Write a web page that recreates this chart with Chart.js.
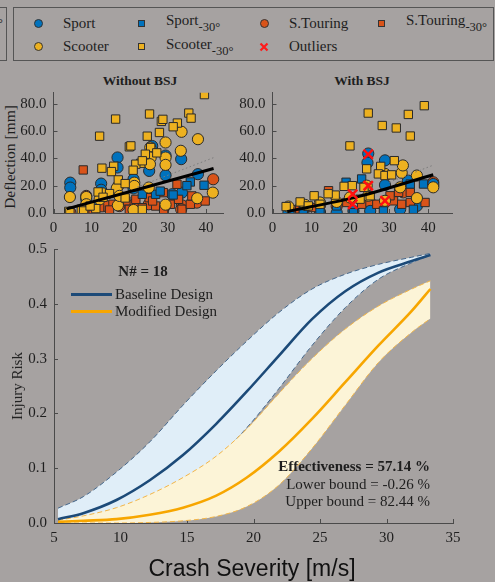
<!DOCTYPE html>
<html>
<head>
<meta charset="utf-8">
<script src="https://cdn.jsdelivr.net/npm/chart.js@4.4.1/dist/chart.umd.min.js"></script>
<style>
  body { margin: 0; background: #a6a2a1; }
  #page { position: relative; width: 495px; height: 582px; background: #a6a2a1; overflow: hidden;
          font-family: "Liberation Serif", "DejaVu Serif", serif; color: #1e1e1e; }
  canvas { position: absolute; }
  .t { position: absolute; white-space: nowrap; font-size: 15px; line-height: 18px; }
  .t sub { font-size: 12.5px; vertical-align: -6px; }
  .dot { position: absolute; width: 9px; height: 9px; border-radius: 50%; border: 1px solid #333; box-sizing: border-box; }
  .sq { position: absolute; width: 7px; height: 7px; border: 1px solid #333; box-sizing: border-box; }
  .ln { position: absolute; height: 3px; width: 41px; }
</style>
</head>
<body>
<div id="page">
  <!-- piece of the neighbouring legend on the left -->
  <div style="position:absolute;left:0;top:7px;width:7px;height:54px;border:1px solid #555;border-left:none;box-sizing:border-box"></div>
  <div class="t" style="left:-2px;top:14px;font-size:12px">°</div>

  <!-- marker legend -->
  <div style="position:absolute;left:13px;top:7px;width:481px;height:54px;border:1px solid #555;box-sizing:border-box"></div>
  <div class="dot" style="left:34px;top:19px;background:#0072bd"></div>
  <div class="t" style="left:63px;top:14px">Sport</div>
  <div class="sq" style="left:138px;top:20px;background:#0072bd"></div>
  <div class="t" style="left:166px;top:11px">Sport<sub>-30°</sub></div>
  <div class="dot" style="left:260px;top:19px;background:#d95319"></div>
  <div class="t" style="left:289px;top:14px">S.Touring</div>
  <div class="sq" style="left:378px;top:20px;background:#d95319"></div>
  <div class="t" style="left:406px;top:11px">S.Touring<sub>-30°</sub></div>
  <div class="dot" style="left:34px;top:42px;background:#edb120"></div>
  <div class="t" style="left:63px;top:37px">Scooter</div>
  <div class="sq" style="left:138px;top:43px;background:#edb120"></div>
  <div class="t" style="left:166px;top:35px">Scooter<sub>-30°</sub></div>
  <svg style="position:absolute;left:259px;top:42px" width="10" height="10"><path d="M1.5 1.5L8.5 8.5M8.5 1.5L1.5 8.5" stroke="#ff1a1a" stroke-width="2.2"/></svg>
  <div class="t" style="left:289px;top:37px">Outliers</div>

  <!-- scatter titles and label -->
  <div class="t" style="left:140px;top:72px;font-size:13.5px;font-weight:bold;transform:translateX(-50%)">Without BSJ</div>
  <div class="t" style="left:362px;top:72px;font-size:13.5px;font-weight:bold;transform:translateX(-50%)">With BSJ</div>
  <div class="t" style="left:10px;top:157px;font-size:15.5px;transform:translate(-50%,-50%) rotate(-90deg)">Deflection [mm]</div>

  <canvas id="noBsj" width="230" height="165" style="left:0;top:70px"></canvas>
  <canvas id="withBsj" width="265" height="165" style="left:230px;top:70px"></canvas>
  <canvas id="risk" width="495" height="340" style="left:0;top:229px"></canvas>

  <!-- risk plot texts -->
  <div class="t" style="left:143px;top:262px;font-weight:bold;transform:translateX(-50%)">N# = 18</div>
  <div class="ln" style="left:71px;top:293px;background:#1c4a78"></div>
  <div class="t" style="left:115px;top:285px">Baseline Design</div>
  <div class="ln" style="left:71px;top:310px;background:#f7a600"></div>
  <div class="t" style="left:115px;top:302px">Modified Design</div>
  <div class="t" style="right:65px;top:457px;font-weight:bold">Effectiveness = 57.14 %</div>
  <div class="t" style="right:65px;top:475px">Lower bound = -0.26 %</div>
  <div class="t" style="right:65px;top:492px">Upper bound = 82.44 %</div>
  <div class="t" style="left:17px;top:386px;transform:translate(-50%,-50%) rotate(-90deg)">Injury Risk</div>
  <div class="t" style="left:252px;top:554px;font-family:'Liberation Sans',Arial,sans-serif;font-size:23px;line-height:28px;color:#111;transform:translateX(-50%)">Crash Severity [m/s]</div>
</div>

<script>
// deflection [mm] vs speed, without BSJ
const noBsjSport = [[4.4,22.2],[4.4,18.6],[16.8,40.6],[16.8,33.3],[25.1,30.8],[25.9,49],[33.5,39.4],[29.4,27.6],[37.9,28.4],[12.5,21.5],[21,24.7],[25.1,14.9],[31.1,13.7],[33.7,14.9],[8.6,10],[12.5,17],[29.4,42],[21,18]];
const noBsjSport30 = [[35.9,22.7],[39.5,20.3],[31.4,13.2],[26.8,13.7],[23.3,13.7],[13.8,13.7],[17.3,8.8],[10.4,5.1],[35,20],[28,16]];
const noBsjTouring = [[41.9,24.7],[8.6,12.5],[33.7,5.6],[37.6,7.6],[25,6.4],[17.3,5.1],[13.8,5.1],[21.2,6.4],[33.5,2.7],[29,4],[4.4,0.5],[8.6,2]];
const noBsjTouring30 = [[7.8,31.5],[32.4,21],[28.8,14.9],[25.1,11.2],[21.6,10],[19,8.8],[15.6,6.4],[12.1,3.9],[26.8,5.1],[30.7,6.4],[33.7,2.7],[35.9,6.4],[39.8,8.8],[23.3,3.9],[19.9,2.7],[14.7,2.2],[28.9,2.2],[26,8.8],[32.8,10],[36.3,12.5],[10.4,1.5]];
const noBsjScooter = [[37.9,54],[33.6,59.4],[33.4,45.5],[29.4,51.6],[29.4,40.6],[29.4,35.2],[25.4,47.9],[25.5,40.6],[25.3,35.7],[21.2,22.2],[21.2,19.8],[17,19.8],[16.6,18.1],[12.8,14.4],[8.6,11.7],[4.3,11.7],[16.9,5.6],[21,2.2],[29.4,6.1],[37.7,10.8],[41.8,14.9],[8.6,6.4],[12.1,10],[17.3,12.5],[25,18.6]];
const noBsjScooter30 = [[39.6,86.6],[16.3,68.7],[25.2,72.4],[35.5,73.1],[36.1,69.4],[28.3,67],[28.7,68.5],[32.5,65.8],[31.4,63.1],[27.8,58.9],[12.1,56.2],[24.6,56.2],[19.9,48.4],[20.3,49.1],[25.5,47.9],[24.1,43],[27.1,44],[22.9,36.4],[21.6,35.7],[15.8,34.2],[15.2,30.3],[12.7,32.8],[17,24.2],[18.8,21.5],[20.9,31.3],[11.7,15.4],[14.7,14.2],[13,11.5],[4,1.2],[4.3,0.2],[7.3,2.7],[7.9,1.5],[11.1,3.2],[9.6,5.1],[18.8,11],[23.3,2.7],[23.3,38.2]];
const noBsjFit = [[3.5,3],[42,32.5]];
const noBsjFitBound = [[22,19],[42,40.5]];

// with BSJ
const withBsjSport = [[24.6,43.5],[24.4,36.8],[28.9,38.5],[28.9,20.5],[34.8,23.7],[41.3,21.2],[4.1,0.2],[7.9,0.2],[12.2,0.7],[16.5,0.2],[20.8,1.5],[25.1,1.5],[32.8,2.7],[37.1,5.2]];
const withBsjSport30 = [[18.9,22.5],[22.9,24.9],[35.4,21.2],[38.8,21.2],[20.8,0.2],[28.5,1.5],[36.2,2.7],[7.9,2.7],[12.2,2.2],[16.5,5.2]];
const withBsjTouring = [[41.3,22.5],[41.3,20],[25.1,7.7],[28.9,7.7],[16.5,5],[12.2,5.5],[4.5,3],[33.6,15.1],[8,4]];
const withBsjTouring30 = [[14.4,16.3],[19.1,7.7],[22.9,6.4],[26.8,6.4],[31.1,8.9],[33.2,6.4],[35.4,7.7],[39.2,7.7],[32.4,15.1],[35.4,15.1],[10.5,4],[7,3],[30.2,12.6]];
const withBsjScooter = [[37.1,27.4],[33.2,29.4],[33.5,34.8],[28.9,28.6],[41.3,18.8],[37.1,10.9],[32.8,18.8],[24.2,20],[24.6,12.6],[28.9,8.9],[4.1,4.7],[8.4,5.9],[12.2,7.7],[16.5,8.1],[19.9,11.4]];
const withBsjScooter30 = [[39,78.5],[24.6,73.1],[34.9,72.1],[28.2,64],[31.8,62.2],[35.4,56.3],[19.9,49.1],[24.2,32.3],[27.8,34.1],[31.3,38.3],[27.2,28.6],[28.9,27.4],[30.6,27.9],[18.4,19.5],[20.5,20],[23.5,18.8],[16.1,13.1],[14.3,14.1],[10.7,12.6],[7.1,8.1],[3.5,4.7],[12.2,6.4],[22.5,10.1],[25.1,12.6],[9.2,5.2]];
const withBsjOutliers = [[24.6,43],[24.6,20],[20.6,13.8],[20.6,6.4],[28.9,8.9]];
const withBsjFit = [[3.8,1],[22,12],[41.3,28]];
const withBsjFitBound = [[30,22.5],[41.3,35]];

const speedTicks = [0, 10, 20, 30, 40];
const deflTicks = [0, 20, 40, 60, 80];

// injury risk curves
const severity = [5.3, 7.2, 9.7, 12.2, 14.7, 17.2, 19.5, 21.9, 24.4, 26.9, 29.4, 31.9, 33.3];
const baseRisk = [0.007, 0.018, 0.042, 0.078, 0.124, 0.181, 0.240, 0.305, 0.372, 0.423, 0.457, 0.478, 0.489];
const baseUpper = [0.027, 0.048, 0.093, 0.148, 0.215, 0.278, 0.332, 0.384, 0.427, 0.454, 0.472, 0.485, 0.492];
const baseLower = [0.003, 0.010, 0.024, 0.046, 0.078, 0.118, 0.174, 0.245, 0.324, 0.393, 0.445, 0.475, 0.489];
const modRisk = [0.002, 0.004, 0.007, 0.015, 0.028, 0.050, 0.083, 0.130, 0.190, 0.257, 0.324, 0.387, 0.427];
const modUpper = [0.005, 0.013, 0.028, 0.052, 0.083, 0.122, 0.172, 0.236, 0.300, 0.354, 0.396, 0.427, 0.442];
const modLower = [0.0, 0.0, 0.0, 0.001, 0.004, 0.012, 0.030, 0.069, 0.136, 0.215, 0.293, 0.348, 0.373];
const severityTicks = [5, 10, 15, 20, 25, 30, 35];
const riskTicks = [0, 0.1, 0.2, 0.3, 0.4, 0.5];

Chart.defaults.font.family = '"Liberation Serif", "DejaVu Serif", serif';
Chart.defaults.font.size = 15;
Chart.defaults.color = "#1e1e1e";

const axisColor = "#4a4a4a";

// matlab style ticks, pointing into the plot
const inwardTicks = {
  id: "inwardTicks",
  beforeDatasetsDraw(chart) {
    const ctx = chart.ctx;
    const area = chart.chartArea;
    const xs = chart.scales.x;
    const ys = chart.scales.y;
    ctx.save();
    ctx.strokeStyle = axisColor;
    ctx.lineWidth = 1;
    xs.ticks.forEach((t, i) => {
      const p = Math.round(xs.getPixelForTick(i)) + 0.5;
      ctx.beginPath();
      ctx.moveTo(p, area.bottom);
      ctx.lineTo(p, area.bottom - 4);
      ctx.stroke();
    });
    ys.ticks.forEach((t, i) => {
      const p = Math.round(ys.getPixelForTick(i)) + 0.5;
      ctx.beginPath();
      ctx.moveTo(area.left, p);
      ctx.lineTo(area.left + 4, p);
      ctx.stroke();
    });
    ctx.restore();
  },
};

function pts(list) {
  return list.map((p) => ({ x: p[0], y: p[1] }));
}

function markers(list, color, style, r) {
  return {
    data: pts(list),
    pointStyle: style,
    pointRadius: r,
    backgroundColor: color,
    borderColor: "#2a2a2a",
    borderWidth: 1,
  };
}

function axes(xMax, yMax, leftW, xTicks, yTicks, decimals, bottomH) {
  return {
    x: {
      type: "linear",
      min: xTicks[0],
      max: xMax,
      afterBuildTicks: (s) => { s.ticks = xTicks.map((v) => ({ value: v })); },
      afterFit: (s) => { s.height = bottomH; },
      grid: { display: false, drawTicks: false },
      border: { display: true, color: axisColor, width: 1 },
      ticks: { padding: 6, maxRotation: 0 },
    },
    y: {
      type: "linear",
      min: 0,
      max: yMax,
      afterBuildTicks: (s) => { s.ticks = yTicks.map((v) => ({ value: v })); },
      afterFit: (s) => { s.width = leftW; },
      grid: { display: false, drawTicks: false },
      border: { display: true, color: axisColor, width: 1 },
      ticks: { padding: 7, callback: (v) => v.toFixed(decimals) },
    },
  };
}

function drawScatter(id, sets, leftW, rightPad, xMax) {
  let ctx = document.getElementById(id).getContext("2d");
  // first dataset ends up on top
  let datasets = [];
  if (sets.outliers) {
    datasets.push({
      data: pts(sets.outliers),
      pointStyle: "crossRot",
      pointRadius: 6.5,
      borderColor: "#ff1010",
      borderWidth: 2.5,
    });
  }
  datasets.push({
    type: "line",
    data: pts(sets.fit),
    borderColor: "#000",
    borderWidth: 3,
    pointRadius: 0,
    tension: 0.3,
  });
  datasets.push({
    type: "line",
    data: pts(sets.bound),
    borderColor: "#7c7c7c",
    borderWidth: 1,
    borderDash: [1.5, 2.5],
    pointRadius: 0,
  });
  datasets.push(markers(sets.scooter30, "#edb120", "rect", 5.9));
  datasets.push(markers(sets.scooter, "#edb120", "circle", 5.6));
  datasets.push(markers(sets.sport30, "#0072bd", "rect", 5.9));
  datasets.push(markers(sets.touring30, "#d95319", "rect", 5.9));
  datasets.push(markers(sets.sport, "#0072bd", "circle", 5.6));
  datasets.push(markers(sets.touring, "#d95319", "circle", 5.6));

  new Chart(ctx, {
    type: "scatter",
    data: { datasets: datasets },
    options: {
      responsive: false,
      animation: false,
      events: [],
      layout: { padding: { left: 0, top: 22.7, right: rightPad, bottom: 0 } },
      plugins: { legend: { display: false }, tooltip: { enabled: false } },
      scales: axes(xMax, 88, leftW, speedTicks, deflTicks, 1, 22),
    },
    plugins: [inwardTicks],
  });
}

drawScatter("noBsj", {
  sport: noBsjSport, sport30: noBsjSport30, touring: noBsjTouring, touring30: noBsjTouring30,
  scooter: noBsjScooter, scooter30: noBsjScooter30, fit: noBsjFit, bound: noBsjFitBound,
}, 53.5, 5, 44.5);

drawScatter("withBsj", {
  sport: withBsjSport, sport30: withBsjSport30, touring: withBsjTouring, touring30: withBsjTouring30,
  scooter: withBsjScooter, scooter30: withBsjScooter30, outliers: withBsjOutliers,
  fit: withBsjFit, bound: withBsjFitBound,
}, 42.5, 42.3, 46.3);

function curve(values) {
  return values.map((v, i) => ({ x: severity[i], y: v }));
}

function drawRisk() {
  let ctx = document.getElementById("risk").getContext("2d");
  let edge = { pointRadius: 0, borderWidth: 1, borderDash: [5, 3], cubicInterpolationMode: "monotone" };
  new Chart(ctx, {
    type: "line",
    data: {
      datasets: [
        { data: curve(baseRisk), borderColor: "#1c4a78", borderWidth: 2.6, pointRadius: 0, cubicInterpolationMode: "monotone", order: 0 },
        { data: curve(modRisk), borderColor: "#f7a600", borderWidth: 2.6, pointRadius: 0, cubicInterpolationMode: "monotone", order: 1 },
        Object.assign({ data: curve(modUpper), borderColor: "#f3b547", order: 2 }, edge),
        Object.assign({ data: curve(modLower), borderColor: "#f3b547", backgroundColor: "#fcf4d7", fill: 2, order: 3 }, edge),
        Object.assign({ data: curve(baseUpper), borderColor: "#46688c", order: 4 }, edge),
        Object.assign({ data: curve(baseLower), borderColor: "#46688c", backgroundColor: "#e0eef8", fill: 4, order: 5 }, edge),
      ],
    },
    options: {
      responsive: false,
      animation: false,
      events: [],
      layout: { padding: { left: 0, top: 20, right: 42, bottom: 0 } },
      plugins: { legend: { display: false }, tooltip: { enabled: false } },
      scales: axes(35, 0.5, 54, severityTicks, riskTicks, 1, 46),
    },
    plugins: [inwardTicks],
  });
}

drawRisk();
</script>
</body>
</html>
